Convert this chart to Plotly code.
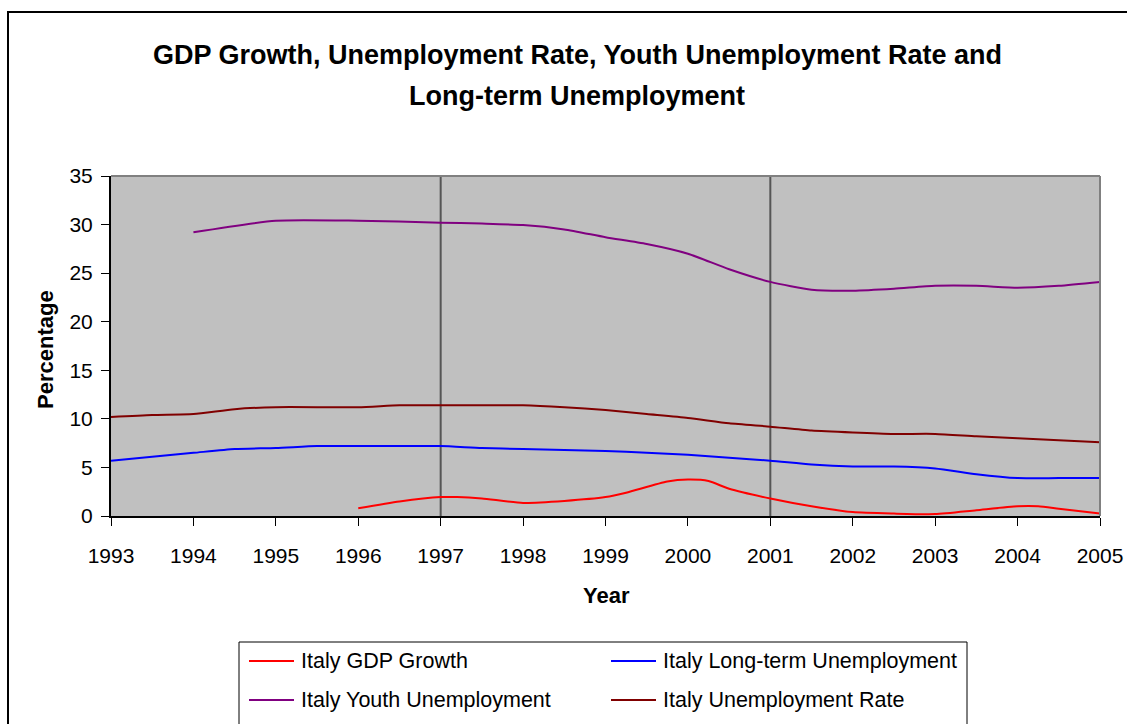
import plotly.graph_objects as go

# Italy labour-market indicators, 1993-2005 (percent)
gdp_years = [1996, 1996.5, 1997, 1997.2, 1997.5, 1998, 1998.5, 1999, 1999.25, 1999.75,
             2000, 2000.25, 2000.5, 2001, 2001.5, 2002, 2002.5, 2003, 2003.5, 2004,
             2004.25, 2004.5, 2005]
gdp_growth = [0.8, 1.5, 1.95, 1.95, 1.8, 1.35, 1.55, 1.95, 2.4, 3.55,
              3.75, 3.6, 2.8, 1.8, 1.0, 0.4, 0.25, 0.2, 0.6, 1.0,
              1.0, 0.75, 0.25]

lt_years = [1993, 1993.5, 1994, 1994.5, 1995, 1995.5, 1996, 1996.5, 1997, 1997.5,
            1998, 1998.5, 1999, 1999.5, 2000, 2000.5, 2001, 2001.5, 2002, 2002.5,
            2003, 2003.5, 2004, 2004.5, 2005]
long_term = [5.7, 6.1, 6.5, 6.9, 7.0, 7.2, 7.2, 7.2, 7.2, 7.0,
             6.9, 6.8, 6.7, 6.5, 6.3, 6.0, 5.7, 5.3, 5.1, 5.1,
             4.9, 4.3, 3.9, 3.9, 3.9]

youth_years = [1994, 1995, 1996, 1997, 1997.5, 1998, 1998.5, 1999, 1999.5, 2000,
               2000.5, 2001, 2001.5, 2002, 2002.5, 2003, 2003.5, 2004, 2004.5, 2005]
youth = [29.2, 30.4, 30.4, 30.2, 30.1, 29.95, 29.5, 28.7, 28.0, 27.0,
         25.4, 24.1, 23.3, 23.2, 23.4, 23.7, 23.7, 23.5, 23.7, 24.1]

ur_years = [1993, 1993.5, 1994, 1994.5, 1995, 1996, 1996.5, 1997, 1998, 1998.5,
            1999, 1999.5, 2000, 2000.5, 2001, 2001.5, 2002, 2002.5, 2003, 2003.5,
            2004, 2004.5, 2005]
unemployment = [10.2, 10.4, 10.5, 11.0, 11.2, 11.2, 11.4, 11.4, 11.4, 11.2,
                10.9, 10.5, 10.1, 9.55, 9.2, 8.8, 8.6, 8.45, 8.45, 8.2,
                8.0, 7.8, 7.6]

year_ticks = list(range(1993, 2006))
y_ticks = [0, 5, 10, 15, 20, 25, 30, 35]
grid_years = [1997, 2001]

series = [
    ("Italy GDP Growth", gdp_years, gdp_growth, "#FF0000"),
    ("Italy Long-term Unemployment", lt_years, long_term, "#0000FF"),
    ("Italy Youth Unemployment", youth_years, youth, "#800080"),
    ("Italy Unemployment Rate", ur_years, unemployment, "#800000"),
]

FONT = "Liberation Sans, Arial, sans-serif"
W, H = 1127, 724
L, R, T, B = 111, 1100, 176, 516  # plot area in pixels


def px_x(px):
    return (px - L) / (R - L)


def px_y(py):
    return (B - py) / (B - T)


fig = go.Figure()
for name, xs, ys, color in series:
    fig.add_trace(go.Scatter(
        x=xs, y=ys, name=name, mode="lines",
        line=dict(color=color, width=2, shape="spline", smoothing=0.6),
        showlegend=False,
    ))

shapes = []
# outer chart frame
shapes.append(dict(type="rect", xref="paper", yref="paper",
                   x0=px_x(8), x1=px_x(1140), y0=px_y(760), y1=px_y(12),
                   line=dict(color="black", width=2), layer="below"))
# plot area border (top/right)
shapes.append(dict(type="line", xref="paper", yref="paper",
                   x0=0, x1=1, y0=1, y1=1, line=dict(color="#808080", width=2)))
shapes.append(dict(type="line", xref="paper", yref="paper",
                   x0=1, x1=1, y0=0, y1=1, line=dict(color="#808080", width=2)))
# vertical gridlines every four years
for gx in grid_years:
    shapes.append(dict(type="line", xref="x", yref="paper", x0=gx, x1=gx, y0=0, y1=1,
                       line=dict(color="#555555", width=2), layer="below"))

# legend box
lg_x0, lg_x1, lg_y0 = 239, 967, 642
shapes.append(dict(type="rect", xref="paper", yref="paper",
                   x0=px_x(lg_x0), x1=px_x(lg_x1), y0=px_y(760), y1=px_y(lg_y0),
                   line=dict(color="black", width=1), fillcolor="white"))
annotations = []
legend_pos = [(249, 661), (611, 661), (249, 700), (611, 700)]
for (name, _, _, color), (lx, ly) in zip(series, legend_pos):
    shapes.append(dict(type="line", xref="paper", yref="paper",
                       x0=px_x(lx), x1=px_x(lx + 45), y0=px_y(ly), y1=px_y(ly),
                       line=dict(color=color, width=2)))
    annotations.append(dict(text=name, xref="paper", yref="paper",
                            x=px_x(lx + 50), y=px_y(ly), xanchor="left", yanchor="middle",
                            showarrow=False, font=dict(family=FONT, size=21.5, color="black")))

# title, two lines
for line_text, ty in [("GDP Growth, Unemployment Rate, Youth Unemployment Rate and", 55),
                      ("Long-term Unemployment", 96)]:
    annotations.append(dict(
        text=f"<b>{line_text}</b>",
        xref="paper", yref="paper", x=px_x(577), y=px_y(ty), xanchor="center", yanchor="middle",
        showarrow=False, font=dict(family=FONT, size=27, color="black")))

# axis titles
annotations.append(dict(text="<b>Percentage</b>", xref="paper", yref="paper",
                        x=px_x(45), y=px_y(350), xanchor="center", yanchor="middle",
                        textangle=-90, showarrow=False,
                        font=dict(family=FONT, size=22, color="black")))
annotations.append(dict(text="<b>Year</b>", xref="paper", yref="paper",
                        x=px_x(606), y=px_y(595), xanchor="center", yanchor="middle",
                        showarrow=False, font=dict(family=FONT, size=22, color="black")))

fig.update_layout(
    width=W, height=H,
    margin=dict(l=L, r=W - R, t=T, b=H - B, pad=0, autoexpand=False),
    paper_bgcolor="white", plot_bgcolor="#C0C0C0",
    shapes=shapes, annotations=annotations,
    font=dict(family=FONT, color="black"),
)
fig.update_xaxes(
    range=[1993, 2005], tickvals=year_ticks, ticktext=[str(y) for y in year_ticks],
    ticks="outside", ticklen=8, tickcolor="black", tickwidth=1,
    showline=True, linecolor="black", linewidth=2,
    showgrid=False, zeroline=False, automargin=False,
    tickfont=dict(family=FONT, size=21),
    ticklabelstandoff=12,
)
fig.update_yaxes(
    range=[0, 35], tickvals=y_ticks,
    ticks="outside", ticklen=8, tickcolor="black", tickwidth=1,
    showline=True, linecolor="black", linewidth=2,
    showgrid=False, zeroline=False, automargin=False,
    tickfont=dict(family=FONT, size=21),
    ticklabelstandoff=4,
)

fig.write_html("out.html")
